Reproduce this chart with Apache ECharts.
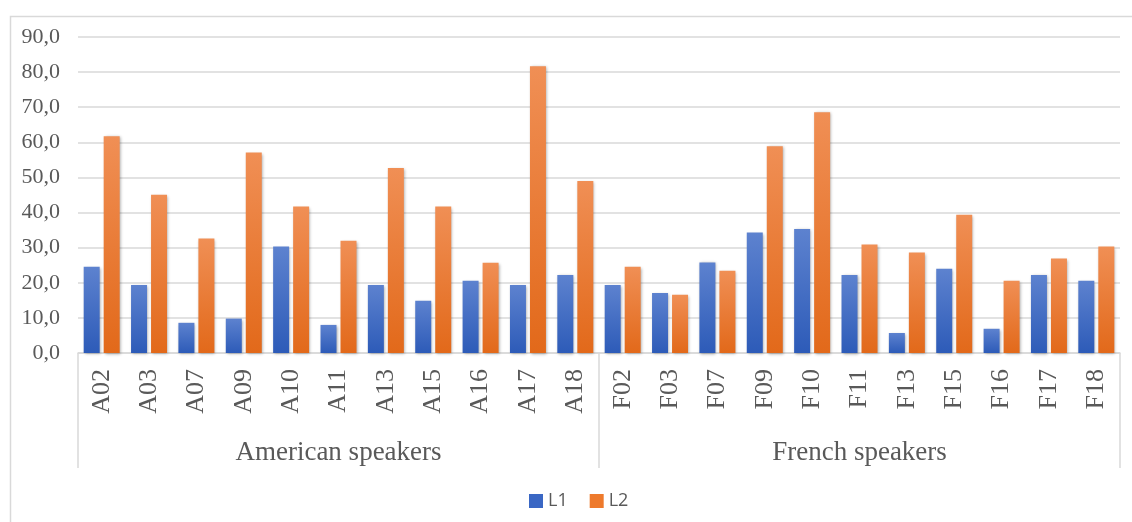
<!DOCTYPE html>
<html>
<head>
<meta charset="utf-8">
<script src="https://cdn.jsdelivr.net/npm/echarts@6/dist/echarts.min.js"></script>
<style>
  html, body { margin: 0; padding: 0; background: #fff; }
  #chart { width: 1132px; height: 522px; }
</style>
</head>
<body>
<div id="chart"></div>
<script>
// speakers, grouped by native language
const speakers = ["A02", "A03", "A07", "A09", "A10", "A11", "A13", "A15", "A16", "A17", "A18",
                  "F02", "F03", "F07", "F09", "F10", "F11", "F13", "F15", "F16", "F17", "F18"];
const groups = ["American speakers", "French speakers"];
const l1 = [24.6, 19.4, 8.6, 9.8, 30.3, 8.0, 19.4, 14.9, 20.6, 19.4, 22.2,
            19.4, 17.1, 25.8, 34.3, 35.3, 22.2, 5.7, 24.0, 6.9, 22.2, 20.6];
const l2 = [61.7, 45.1, 32.6, 57.1, 41.7, 32.0, 52.7, 41.7, 25.7, 81.7, 49.0,
            24.6, 16.6, 23.4, 58.9, 68.6, 30.9, 28.6, 39.4, 20.6, 26.9, 30.3];

const chart = echarts.init(document.getElementById("chart"));

const serif = "'Liberation Serif', 'DejaVu Serif', serif";
const grey = "#595959";

// light at the top, darker towards the base, like the office 3D-ish bars
function grad(top, bottom) {
  return new echarts.graphic.LinearGradient(0, 0, 0, 1, [
    { offset: 0, color: top },
    { offset: 1, color: bottom },
  ]);
}

function barSeries(name, data, top, bottom) {
  return {
    name: name,
    type: "bar",
    data: data,
    barWidth: 16,
    barGap: "25%",
    itemStyle: {
      color: grad(top, bottom),
      shadowColor: "rgba(0,0,0,0.35)",
      shadowBlur: 3,
      shadowOffsetX: 1,
      shadowOffsetY: 1,
    },
  };
}

const option = {
  animation: false,
  graphic: [
    {
      // outer frame, only left and top edges are in view
      type: "rect",
      left: 8,
      top: 14,
      shape: { width: 1200, height: 600 },
      style: { fill: "none", stroke: "#d9d9d9", lineWidth: 1.5 },
      silent: true,
    },
  ],
  grid: { left: 78, right: 12, top: 37, bottom: 169 },
  legend: {
    left: 524,
    top: 487,
    itemWidth: 14,
    itemHeight: 14,
    itemGap: 22,
    icon: "rect",
    textStyle: { fontFamily: "'Open Sans', 'Noto Sans', sans-serif", fontSize: 18, color: grey },
    data: [
      { name: "L1", itemStyle: { color: "#3a67c4" } },
      { name: "L2", itemStyle: { color: "#ee7a2c" } },
    ],
  },
  xAxis: [
    {
      type: "category",
      data: speakers,
      axisLine: { lineStyle: { color: "#d9d9d9", width: 1.5 } },
      axisTick: { show: false },
      axisLabel: {
        rotate: 90,
        margin: 16,
        fontFamily: serif,
        fontSize: 26,
        color: grey,
        interval: 0,
      },
    },
    {
      type: "category",
      data: groups,
      position: "bottom",
      axisLine: { show: false },
      axisTick: { show: true, length: 115, lineStyle: { color: "#d9d9d9", width: 1.5 } },
      axisLabel: {
        margin: 86,
        fontFamily: serif,
        fontSize: 27,
        color: grey,
      },
    },
  ],
  yAxis: {
    type: "value",
    min: 0,
    max: 90,
    interval: 10,
    axisLine: { show: false },
    axisTick: { show: false },
    splitLine: { lineStyle: { color: "#d9d9d9", width: 1.5 } },
    axisLabel: {
      margin: 18,
      fontFamily: serif,
      fontSize: 22,
      color: grey,
      formatter: (v) => v.toFixed(1).replace(".", ","),
    },
  },
  series: [
    barSeries("L1", l1, "#5d82cf", "#2d5bb8"),
    barSeries("L2", l2, "#f08f55", "#e2691a"),
  ],
};

chart.setOption(option);
</script>
</body>
</html>
